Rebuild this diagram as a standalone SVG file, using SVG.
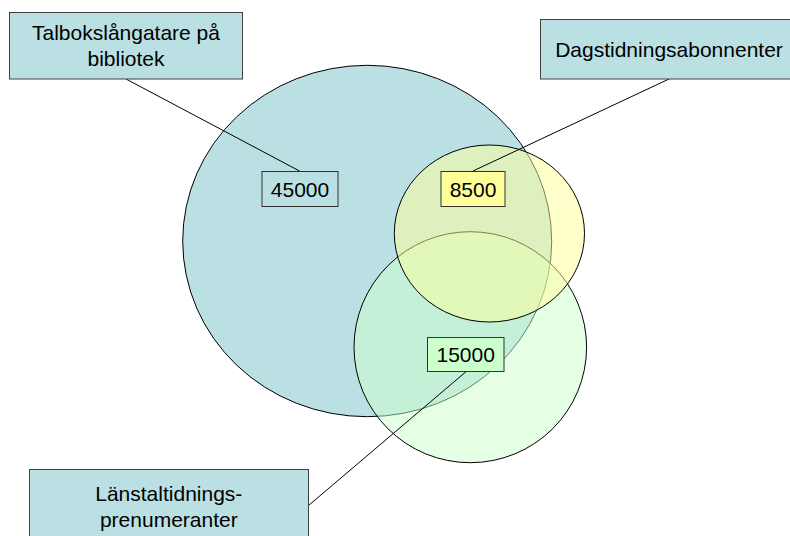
<svg xmlns="http://www.w3.org/2000/svg" width="790" height="536" viewBox="0 0 790 536">
<style>
.set{stroke:#000;stroke-width:1}
.lbl{fill:#BBE0E3;stroke:#404040;stroke-width:1}
.num{stroke:#333;stroke-width:1}
.t{font-family:"Liberation Sans",Arial,sans-serif;font-size:21px;fill:#000;text-anchor:middle}
.conn{stroke:#000;stroke-width:1;fill:none}
</style>
<rect x="0" y="0" width="790" height="536" fill="#fff"/>
<g id="set-talbok">
<ellipse class="set" cx="367.2" cy="241" rx="184.5" ry="175.7" fill="#BBE0E3"/>
</g>
<g id="set-lanstal">
<ellipse class="set" cx="470.3" cy="347.2" rx="116.3" ry="115.5" fill="#CCFFCC" fill-opacity="0.5"/>
</g>
<g id="set-dagstid">
<ellipse class="set" cx="489.4" cy="233.5" rx="95.1" ry="88.5" fill="#FFFF99" fill-opacity="0.5"/>
</g>
<g id="connectors">
<line class="conn" x1="126" y1="79" x2="299.5" y2="171"/>
<line class="conn" x1="669" y1="79" x2="473" y2="171"/>
<line class="conn" x1="466" y1="371.7" x2="308.3" y2="505.7"/>
</g>
<g id="label-talbok">
<rect class="lbl" x="9.5" y="12.5" width="233" height="66.5"/>
<text class="t" x="126" y="40">Talbokslångatare på</text>
<text class="t" x="126" y="65.5">bibliotek</text>
</g>
<g id="label-dagstid">
<rect class="lbl" x="540.5" y="19.5" width="258" height="59.5"/>
<text class="t" x="669" y="57.3">Dagstidningsabonnenter</text>
</g>
<g id="label-lanstal">
<rect class="lbl" x="29.5" y="469.5" width="279" height="75"/>
<text class="t" x="168.8" y="501">Länstaltidnings-</text>
<text class="t" x="168.8" y="527">prenumeranter</text>
</g>
<g id="num-45000">
<rect class="num" x="262" y="171.5" width="76" height="35" fill="#BBE0E3"/>
<text class="t" x="300" y="196.7">45000</text>
</g>
<g id="num-8500">
<rect class="num" x="441" y="171.5" width="64" height="35" fill="#FFFF99"/>
<text class="t" x="473" y="196.7">8500</text>
</g>
<g id="num-15000">
<rect class="num" x="427.5" y="337.5" width="76.5" height="34" fill="#CCFFCC"/>
<text class="t" x="465.7" y="361.7">15000</text>
</g>
</svg>
